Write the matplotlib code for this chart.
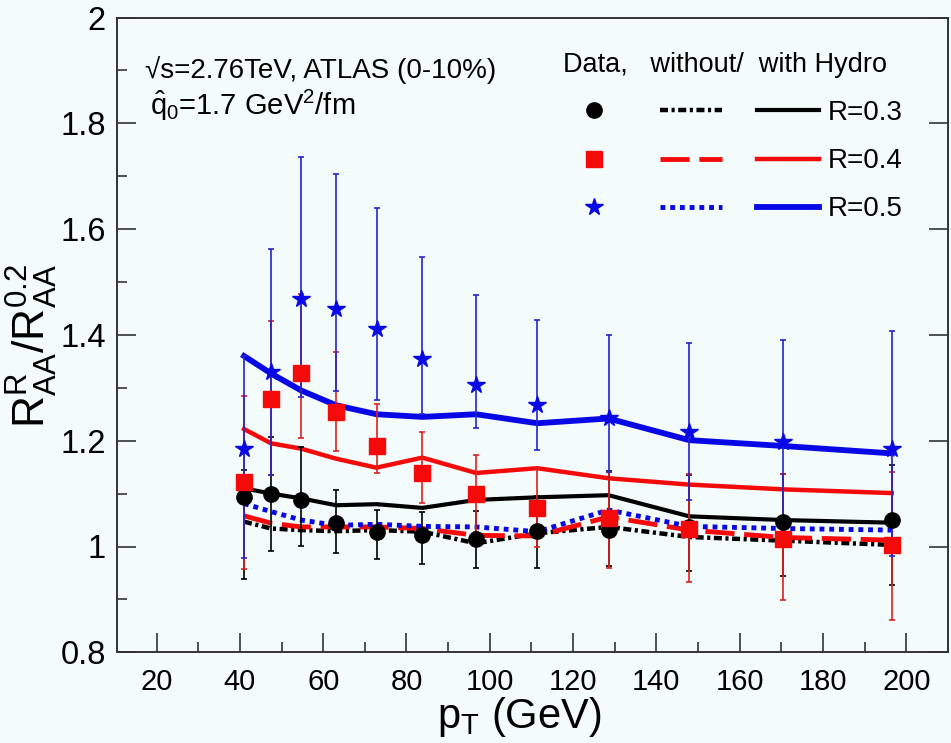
import matplotlib
matplotlib.use("Agg")
import matplotlib.pyplot as plt
from matplotlib.ticker import MultipleLocator

plt.rcParams["font.family"] = ["Liberation Sans", "DejaVu Sans"]
plt.rcParams["mathtext.fontset"] = "custom"
plt.rcParams["mathtext.rm"] = "Liberation Sans"
plt.rcParams["mathtext.it"] = "Liberation Sans:italic"
plt.rcParams["mathtext.bf"] = "Liberation Sans:bold"

# jet pT bin centres (GeV)
pt = [41, 47.5, 54.7, 63.1, 72.8, 83.8, 96.7, 111.4, 128.5, 147.9, 170.5, 196.5]

# ATLAS data: value, lower and upper end of error bar
y03 = [1.094, 1.100, 1.088, 1.045, 1.027, 1.021, 1.015, 1.030, 1.031, 1.037, 1.047, 1.050]
lo03 = [0.938, 0.992, 1.001, 0.987, 0.977, 0.967, 0.960, 0.960, 0.963, 0.954, 0.945, 0.928]
hi03 = [1.144, 1.207, 1.188, 1.107, 1.069, 1.066, 1.067, 1.095, 1.143, 1.135, 1.137, 1.154]

y04 = [1.121, 1.278, 1.328, 1.255, 1.190, 1.139, 1.100, 1.072, 1.053, 1.034, 1.015, 1.003]
lo04 = [0.957, 1.135, 1.206, 1.181, 1.138, 1.083, 1.028, 0.999, 0.960, 0.932, 0.899, 0.861]
hi04 = [1.285, 1.426, 1.477, 1.367, 1.270, 1.217, 1.173, 1.148, 1.141, 1.137, 1.137, 1.141]

y05 = [1.185, 1.329, 1.468, 1.449, 1.412, 1.355, 1.305, 1.267, 1.242, 1.217, 1.198, 1.185]
lo05 = [0.979, 1.135, 1.283, 1.294, 1.277, 1.250, 1.224, 1.183, 1.141, 1.088, 1.000, 0.982]
hi05 = [1.360, 1.563, 1.737, 1.705, 1.639, 1.548, 1.476, 1.429, 1.400, 1.385, 1.390, 1.408]

# model curves, with hydro
hyd03 = [1.110, 1.100, 1.091, 1.078, 1.080, 1.073, 1.088, 1.093, 1.097, 1.057, 1.050, 1.045]
hyd04 = [1.222, 1.195, 1.185, 1.166, 1.149, 1.168, 1.139, 1.148, 1.129, 1.117, 1.108, 1.101]
hyd05 = [1.360, 1.327, 1.295, 1.267, 1.250, 1.245, 1.250, 1.233, 1.242, 1.201, 1.190, 1.176]
# model curves, without hydro
noh03 = [1.047, 1.034, 1.031, 1.029, 1.031, 1.028, 1.006, 1.025, 1.037, 1.018, 1.011, 1.003]
noh04 = [1.058, 1.044, 1.037, 1.037, 1.037, 1.034, 1.021, 1.020, 1.056, 1.031, 1.017, 1.012]
noh05 = [1.081, 1.066, 1.050, 1.040, 1.042, 1.038, 1.037, 1.028, 1.069, 1.038, 1.034, 1.031]

BG = "#f3fbfb"
BLK, RED, BLU = "black", "#f50a0a", "#0808e6"

fig = plt.figure(figsize=(9.51, 7.43), dpi=100, facecolor=BG)
ax = fig.add_axes([117 / 951, 1 - 652.3 / 743, 831 / 951, 634.8 / 743])
ax.set_facecolor(BG)

# curves
n03, = ax.plot(pt, noh03, color=BLK, lw=3.2, ls=(0, (1.8, 0.8, 0.7, 0.8)))
n04, = ax.plot(pt, noh04, color=RED, lw=3.5, ls=(0, (6, 2)))
n05, = ax.plot(pt, noh05, color=BLU, lw=3.5, ls=(0, (1, 1)))
h03, = ax.plot(pt, hyd03, color=BLK, lw=3.0)
h04, = ax.plot(pt, hyd04, color=RED, lw=3.2)
h05, = ax.plot(pt, hyd05, color=BLU, lw=4.2)

# data with error bars
for y, lo, hi, c in [(y03, lo03, hi03, BLK), (y04, lo04, hi04, "#e02020"), (y05, lo05, hi05, "#2424d0")]:
    err = [[a - b for a, b in zip(y, lo)], [b - a for a, b in zip(y, hi)]]
    ax.errorbar(pt, y, yerr=err, fmt="none", ecolor=c, elinewidth=1.2, capsize=2.5, capthick=1.2)
m03, = ax.plot(pt, y03, "o", color=BLK, ms=11, ls="none")
m04, = ax.plot(pt, y04, "s", color=RED, ms=11, ls="none")
m05, = ax.plot(pt, y05, "*", color=BLU, ms=13, ls="none")

ax.set_xlim(10.5, 210)
ax.set_ylim(0.8, 2.0)
ax.xaxis.set_major_locator(MultipleLocator(20))
ax.xaxis.set_minor_locator(MultipleLocator(10))
ax.yaxis.set_major_locator(MultipleLocator(0.2))
ax.yaxis.set_minor_locator(MultipleLocator(0.1))
ax.set_yticks([0.8, 1.0, 1.2, 1.4, 1.6, 1.8, 2.0], ["0.8", "1", "1.2", "1.4", "1.6", "1.8", "2"])
ax.tick_params(which="both", direction="in", color="#333333", width=1.2)
ax.tick_params(which="major", length=14)
ax.tick_params(which="minor", length=7)
ax.tick_params(axis="y", which="major", right=True)
ax.tick_params(axis="y", labelsize=23.5, pad=8)
ax.tick_params(axis="x", labelsize=21, pad=11)
for s in ax.spines.values():
    s.set_color("#333333")
    s.set_linewidth(1.4)

ax.set_xlabel(r"p$_{\mathrm{T}}$ (GeV)", fontsize=30)
ax.xaxis.set_label_coords(0.484, -0.068)
ax.set_ylabel(r"$\mathrm{R^{R}_{AA}/R^{0.2}_{AA}}$", fontsize=32)
ax.yaxis.set_label_coords(-0.068, 0.482)

ax.text(0.0337, 0.904, "\u221as=2.76TeV, ATLAS (0-10%)", transform=ax.transAxes, fontsize=20, va="baseline")
ax.text(0.040, 0.846, r"$\hat{\mathrm{q}}_{\mathrm{0}}$=1.7 GeV$^{\mathrm{2}}$/fm", transform=ax.transAxes,
        fontsize=21, va="baseline")

ax.legend([m03, m04, m05, n03, n04, n05, h03, h04, h05],
          ["", "", "", "", "", "", "R=0.3", "R=0.4", "R=0.5"],
          ncol=3, loc="upper left", bbox_to_anchor=(0.537, 0.946), frameon=False,
          fontsize=20, title="Data,   without/  with Hydro", title_fontsize=19.5, alignment="left",
          handlelength=2.25, handletextpad=0.3, columnspacing=0.93, labelspacing=0.8,
          borderpad=0, borderaxespad=0)

fig.savefig("out.png", dpi=100, facecolor=BG)
